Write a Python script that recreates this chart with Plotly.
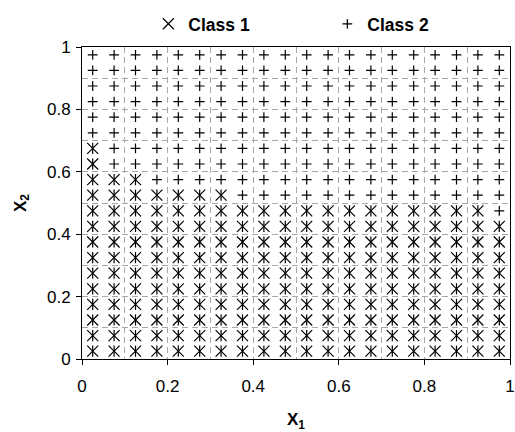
import plotly.graph_objects as go

# Grid of sample points (centres of a 20x20 grid)
grid_vals = [0.025, 0.075, 0.125, 0.175, 0.225, 0.275, 0.325, 0.375, 0.425, 0.475,
             0.525, 0.575, 0.625, 0.675, 0.725, 0.775, 0.825, 0.875, 0.925, 0.975]

# Number of Class-1 points (counted from the left) in each row, bottom to top
class1_count_per_row = [20, 20, 20, 20, 20, 20, 20, 20, 20, 19,
                        7, 3, 1, 1, 0, 0, 0, 0, 0, 0]

c1_x, c1_y, c2_x, c2_y = [], [], [], []
for yi, yv in enumerate(grid_vals):
    n1 = class1_count_per_row[yi]
    for xi, xv in enumerate(grid_vals):
        if xi < n1:
            c1_x.append(xv); c1_y.append(yv)
        else:
            c2_x.append(xv); c2_y.append(yv)

FONT = "Arial, Liberation Sans, sans-serif"
fig = go.Figure()
fig.add_trace(go.Scatter(x=c1_x, y=c1_y, mode="markers", name="<b>Class 1</b>",
                         legendgroup="c1",
                         marker=dict(symbol="x-thin-open", size=11, color="black",
                                     line=dict(color="black", width=1.2))))
fig.add_trace(go.Scatter(x=c1_x, y=c1_y, mode="markers", showlegend=False,
                         legendgroup="c1", hoverinfo="skip",
                         marker=dict(symbol="line-ns-open", size=8, color="black",
                                     line=dict(color="black", width=1.2))))
fig.add_trace(go.Scatter(x=c2_x, y=c2_y, mode="markers", name="<b>Class 2</b>",
                         marker=dict(symbol="cross-thin-open", size=7, color="black",
                                     line=dict(color="black", width=1.2))))

axis_common = dict(range=[0, 1], dtick=0.2, tick0=0, showline=True, mirror=True,
                   linecolor="black", linewidth=1, ticks="outside", ticklen=5,
                   tickcolor="black", tickfont=dict(family=FONT, size=17, color="black"),
                   showgrid=True, gridcolor="#a8a8a8", gridwidth=1, griddash="6px,4px",
                   zeroline=False,
                   minor=dict(dtick=0.1, showgrid=True, gridcolor="#a8a8a8",
                              gridwidth=1, griddash="6px,4px"))

fig.update_xaxes(**axis_common, ticklabelstandoff=7,
                 title=dict(text="<b>X<sub>1</sub></b>", standoff=22,
                            font=dict(family=FONT, size=17, color="black")))
fig.update_yaxes(**axis_common, ticklabelstandoff=2,
                 title=dict(text="<b>X<sub>2</sub></b>", standoff=16,
                            font=dict(family=FONT, size=17, color="black")))

fig.update_layout(
    width=515, height=432,
    margin=dict(l=82, r=5, t=47, b=73, autoexpand=False),
    paper_bgcolor="white", plot_bgcolor="white",
    font=dict(family=FONT, size=16, color="black"),
    legend=dict(orientation="h", x=0.155, xanchor="left", y=1.074, yanchor="middle",
                entrywidth=134, entrywidthmode="pixels", itemwidth=30,
                font=dict(family=FONT, size=17.5, color="black"),
                bgcolor="rgba(0,0,0,0)"),
)

fig.write_html("out.html")
